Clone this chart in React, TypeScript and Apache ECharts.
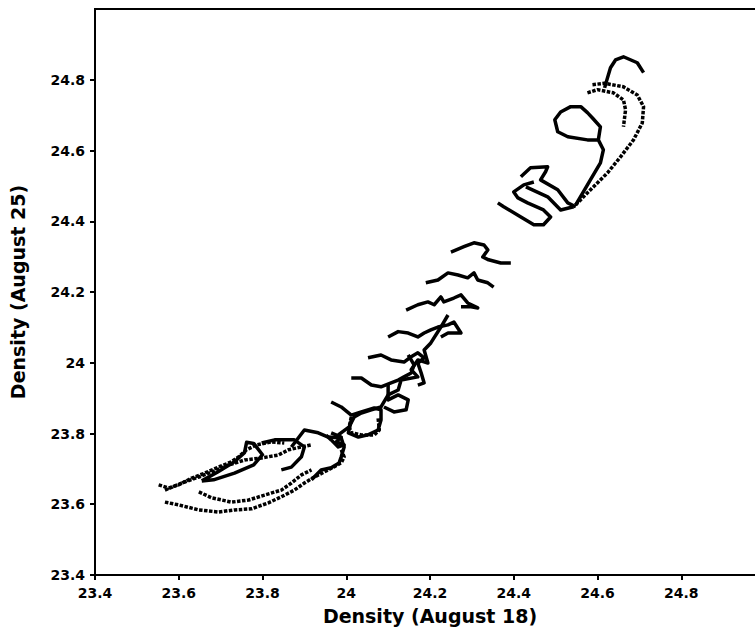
import React, { useEffect, useRef } from "react";
import * as echarts from "echarts";

// Axis ticks
const axisMin = 23.4;
const axisMax = 25;
const axisStep = 0.2;

// Trajectories: [Density Aug 18, Density Aug 25]
const topHook = [[24.710,24.820],[24.695,24.848],[24.662,24.865],[24.643,24.856],[24.631,24.834],[24.621,24.794],[24.617,24.777]];
const longCurve = [[24.588,24.786],[24.617,24.790],[24.662,24.780],[24.695,24.757],[24.710,24.724],[24.707,24.678],[24.686,24.630],[24.655,24.582],[24.624,24.537],[24.590,24.497],[24.560,24.461],[24.543,24.441]];
const shortHook = [[24.576,24.763],[24.600,24.772],[24.638,24.763],[24.662,24.743],[24.667,24.715],[24.662,24.667]];
const upperLoop = [[24.548,24.446],[24.583,24.517],[24.607,24.565],[24.614,24.602],[24.602,24.630],[24.607,24.667],[24.588,24.692],[24.576,24.707],[24.560,24.724],[24.536,24.724],[24.512,24.709],[24.498,24.687],[24.505,24.653],[24.529,24.639],[24.576,24.630],[24.602,24.630]];
const lowerLoop = [[24.362,24.452],[24.376,24.441],[24.417,24.412],[24.448,24.390],[24.471,24.390],[24.488,24.412],[24.471,24.432],[24.433,24.452],[24.410,24.466],[24.400,24.483],[24.424,24.503],[24.448,24.511]];
const diagA = [[24.417,24.526],[24.440,24.551],[24.481,24.554],[24.476,24.540],[24.464,24.517],[24.505,24.489],[24.529,24.452],[24.548,24.441]];
const diagB = [[24.429,24.497],[24.481,24.469],[24.512,24.432],[24.543,24.441]];
const row1 = [[24.250,24.313],[24.281,24.328],[24.305,24.339],[24.329,24.333],[24.338,24.319],[24.326,24.299],[24.340,24.291],[24.369,24.282],[24.393,24.282]];
const row2 = [[24.190,24.226],[24.219,24.234],[24.243,24.254],[24.267,24.248],[24.290,24.240],[24.305,24.254],[24.314,24.234],[24.338,24.226],[24.352,24.214]];
const row3 = [[24.143,24.149],[24.171,24.164],[24.195,24.172],[24.210,24.164],[24.226,24.186],[24.233,24.172],[24.257,24.183],[24.274,24.192],[24.290,24.169],[24.314,24.155],[24.298,24.158],[24.274,24.158]];
const row4 = [[24.100,24.073],[24.124,24.088],[24.148,24.084],[24.171,24.073],[24.186,24.084],[24.202,24.093],[24.219,24.101],[24.243,24.107],[24.257,24.115],[24.274,24.084],[24.243,24.084],[24.226,24.073]];
const row5 = [[24.052,24.014],[24.083,24.022],[24.107,24.008],[24.138,24.002],[24.155,24.017],[24.171,24.028],[24.186,24.014],[24.171,23.999],[24.179,23.971],[24.186,23.943],[24.171,23.937]];
const row6 = [[24.012,23.957],[24.036,23.957],[24.060,23.937],[24.083,23.932],[24.107,23.943],[24.124,23.951],[24.138,23.960],[24.155,23.971],[24.162,23.994],[24.148,24.022]];
const row6Loop = [[24.100,23.943],[24.100,23.923],[24.100,23.895],[24.124,23.909],[24.148,23.895],[24.143,23.867],[24.114,23.861],[24.090,23.875]];
const spine = [[24.243,24.135],[24.226,24.101],[24.202,24.056],[24.186,24.036],[24.195,23.999],[24.171,24.008],[24.155,23.980],[24.171,23.960],[24.131,23.951],[24.124,23.923],[24.100,23.909],[24.083,23.875],[24.060,23.867],[24.036,23.858],[24.019,23.847],[24.007,23.819],[23.981,23.796]];
const row7 = [[23.964,23.889],[23.988,23.875],[24.012,23.852],[24.036,23.861],[24.067,23.872],[24.083,23.867],[24.083,23.838],[24.076,23.810],[24.052,23.796],[24.029,23.790],[24.005,23.802],[24.012,23.838]];
const smallLoop = [[24.012,23.847],[24.007,23.819],[24.012,23.802],[24.036,23.796],[24.067,23.796],[24.079,23.810],[24.076,23.844]];
const knot = [[23.964,23.802],[23.988,23.790],[23.976,23.776],[23.995,23.768],[23.981,23.762],[23.964,23.782],[23.952,23.795]];
const row8 = [[23.869,23.762],[23.900,23.810],[23.933,23.802],[23.957,23.790],[23.988,23.787],[23.995,23.762],[23.988,23.734],[23.983,23.717],[23.964,23.703],[23.940,23.697],[23.917,23.669]];
const leftLoop = [[23.798,23.773],[23.829,23.782],[23.876,23.782],[23.900,23.762],[23.893,23.734],[23.869,23.705],[23.845,23.697]];
const bottomArc = [[23.567,23.606],[23.600,23.598],[23.648,23.584],[23.695,23.578],[23.733,23.584],[23.774,23.587],[23.814,23.604],[23.845,23.621],[23.876,23.640],[23.900,23.660],[23.924,23.677],[23.957,23.697],[23.988,23.717],[23.995,23.734],[23.988,23.754]];
const secondArc = [[23.648,23.635],[23.679,23.618],[23.726,23.606],[23.767,23.612],[23.805,23.626],[23.845,23.640],[23.869,23.660],[23.893,23.683],[23.917,23.697]];
const leftTip = [[23.552,23.655],[23.576,23.646],[23.600,23.655],[23.631,23.674],[23.662,23.688],[23.695,23.705],[23.726,23.720],[23.743,23.734],[23.762,23.754],[23.786,23.768],[23.821,23.776],[23.852,23.773]];
const leftStreak = [[23.567,23.640],[23.607,23.660],[23.648,23.677],[23.679,23.691],[23.719,23.711],[23.757,23.725],[23.798,23.731],[23.838,23.739],[23.862,23.754],[23.893,23.762],[23.917,23.768]];
const innerLoop = [[23.655,23.666],[23.693,23.691],[23.733,23.720],[23.757,23.746],[23.762,23.775],[23.779,23.772],[23.800,23.740],[23.779,23.711],[23.733,23.688],[23.683,23.669],[23.655,23.666]];

const trajectories = [
  { name: "topHook", data: topHook, dotted: false },
  { name: "longCurve", data: longCurve, dotted: true },
  { name: "shortHook", data: shortHook, dotted: true },
  { name: "upperLoop", data: upperLoop, dotted: false },
  { name: "lowerLoop", data: lowerLoop, dotted: false },
  { name: "diagA", data: diagA, dotted: false },
  { name: "diagB", data: diagB, dotted: false },
  { name: "row1", data: row1, dotted: false },
  { name: "row2", data: row2, dotted: false },
  { name: "row3", data: row3, dotted: false },
  { name: "row4", data: row4, dotted: false },
  { name: "row5", data: row5, dotted: false },
  { name: "row6", data: row6, dotted: false },
  { name: "row6Loop", data: row6Loop, dotted: false },
  { name: "spine", data: spine, dotted: false },
  { name: "row7", data: row7, dotted: false },
  { name: "smallLoop", data: smallLoop, dotted: true },
  { name: "knot", data: knot, dotted: false },
  { name: "row8", data: row8, dotted: false },
  { name: "leftLoop", data: leftLoop, dotted: false },
  { name: "bottomArc", data: bottomArc, dotted: true },
  { name: "secondArc", data: secondArc, dotted: true },
  { name: "leftTip", data: leftTip, dotted: true },
  { name: "leftStreak", data: leftStreak, dotted: true },
  { name: "innerLoop", data: innerLoop, dotted: false },
];

const xTitle = "Density (August 18)";
const yTitle = "Density (August 25)";

export default function App() {
  const ref = useRef<HTMLDivElement>(null);
  useEffect(() => {
    document.body.style.margin = "0";
    const chart = echarts.init(ref.current!, null, { renderer: "svg" });
    const labelStyle = {
      color: "#000",
      fontFamily: "DejaVu Sans",
      fontWeight: "bold" as const,
      fontSize: 14,
    };
    const nameStyle = {
      color: "#000",
      fontFamily: "DejaVu Sans",
      fontWeight: "bold" as const,
      fontSize: 19,
    };
    chart.setOption({
      animation: false,
      backgroundColor: "#fff",
      grid: {
        left: 93,
        right: 10,
        top: 9,
        bottom: 57,
        show: true,
        borderColor: "#000",
        borderWidth: 2,
      },
      xAxis: {
        type: "value",
        min: axisMin,
        max: axisMax,
        interval: axisStep,
        name: xTitle,
        nameLocation: "middle",
        nameGap: 31,
        nameTextStyle: nameStyle,
        axisLine: { show: true, lineStyle: { color: "#000", width: 2 } },
        axisTick: { show: true, length: 5, lineStyle: { color: "#000", width: 2 } },
        axisLabel: { ...labelStyle, margin: 11, showMaxLabel: false },
        splitLine: { show: false },
      },
      yAxis: {
        type: "value",
        min: axisMin,
        max: axisMax,
        interval: axisStep,
        name: yTitle,
        nameLocation: "middle",
        nameGap: 68,
        nameTextStyle: nameStyle,
        axisLine: { show: true, lineStyle: { color: "#000", width: 2 } },
        axisTick: { show: true, length: 5, lineStyle: { color: "#000", width: 2 } },
        axisLabel: { ...labelStyle, margin: 10, showMaxLabel: false },
        splitLine: { show: false },
      },
      series: trajectories.map((t) => ({
        type: "line",
        name: t.name,
        data: t.data,
        showSymbol: false,
        silent: true,
        lineStyle: {
          color: "#000",
          width: 3.5,
          type: t.dotted ? [3.5, 1.5] : "solid",
          join: "round",
          cap: "butt",
        },
      })),
    });
    return () => chart.dispose();
  }, []);
  return (
    <div style={{ width: 755, height: 632, overflow: "hidden" }}>
      <div ref={ref} style={{ width: 775, height: 632 }} />
    </div>
  );
}
